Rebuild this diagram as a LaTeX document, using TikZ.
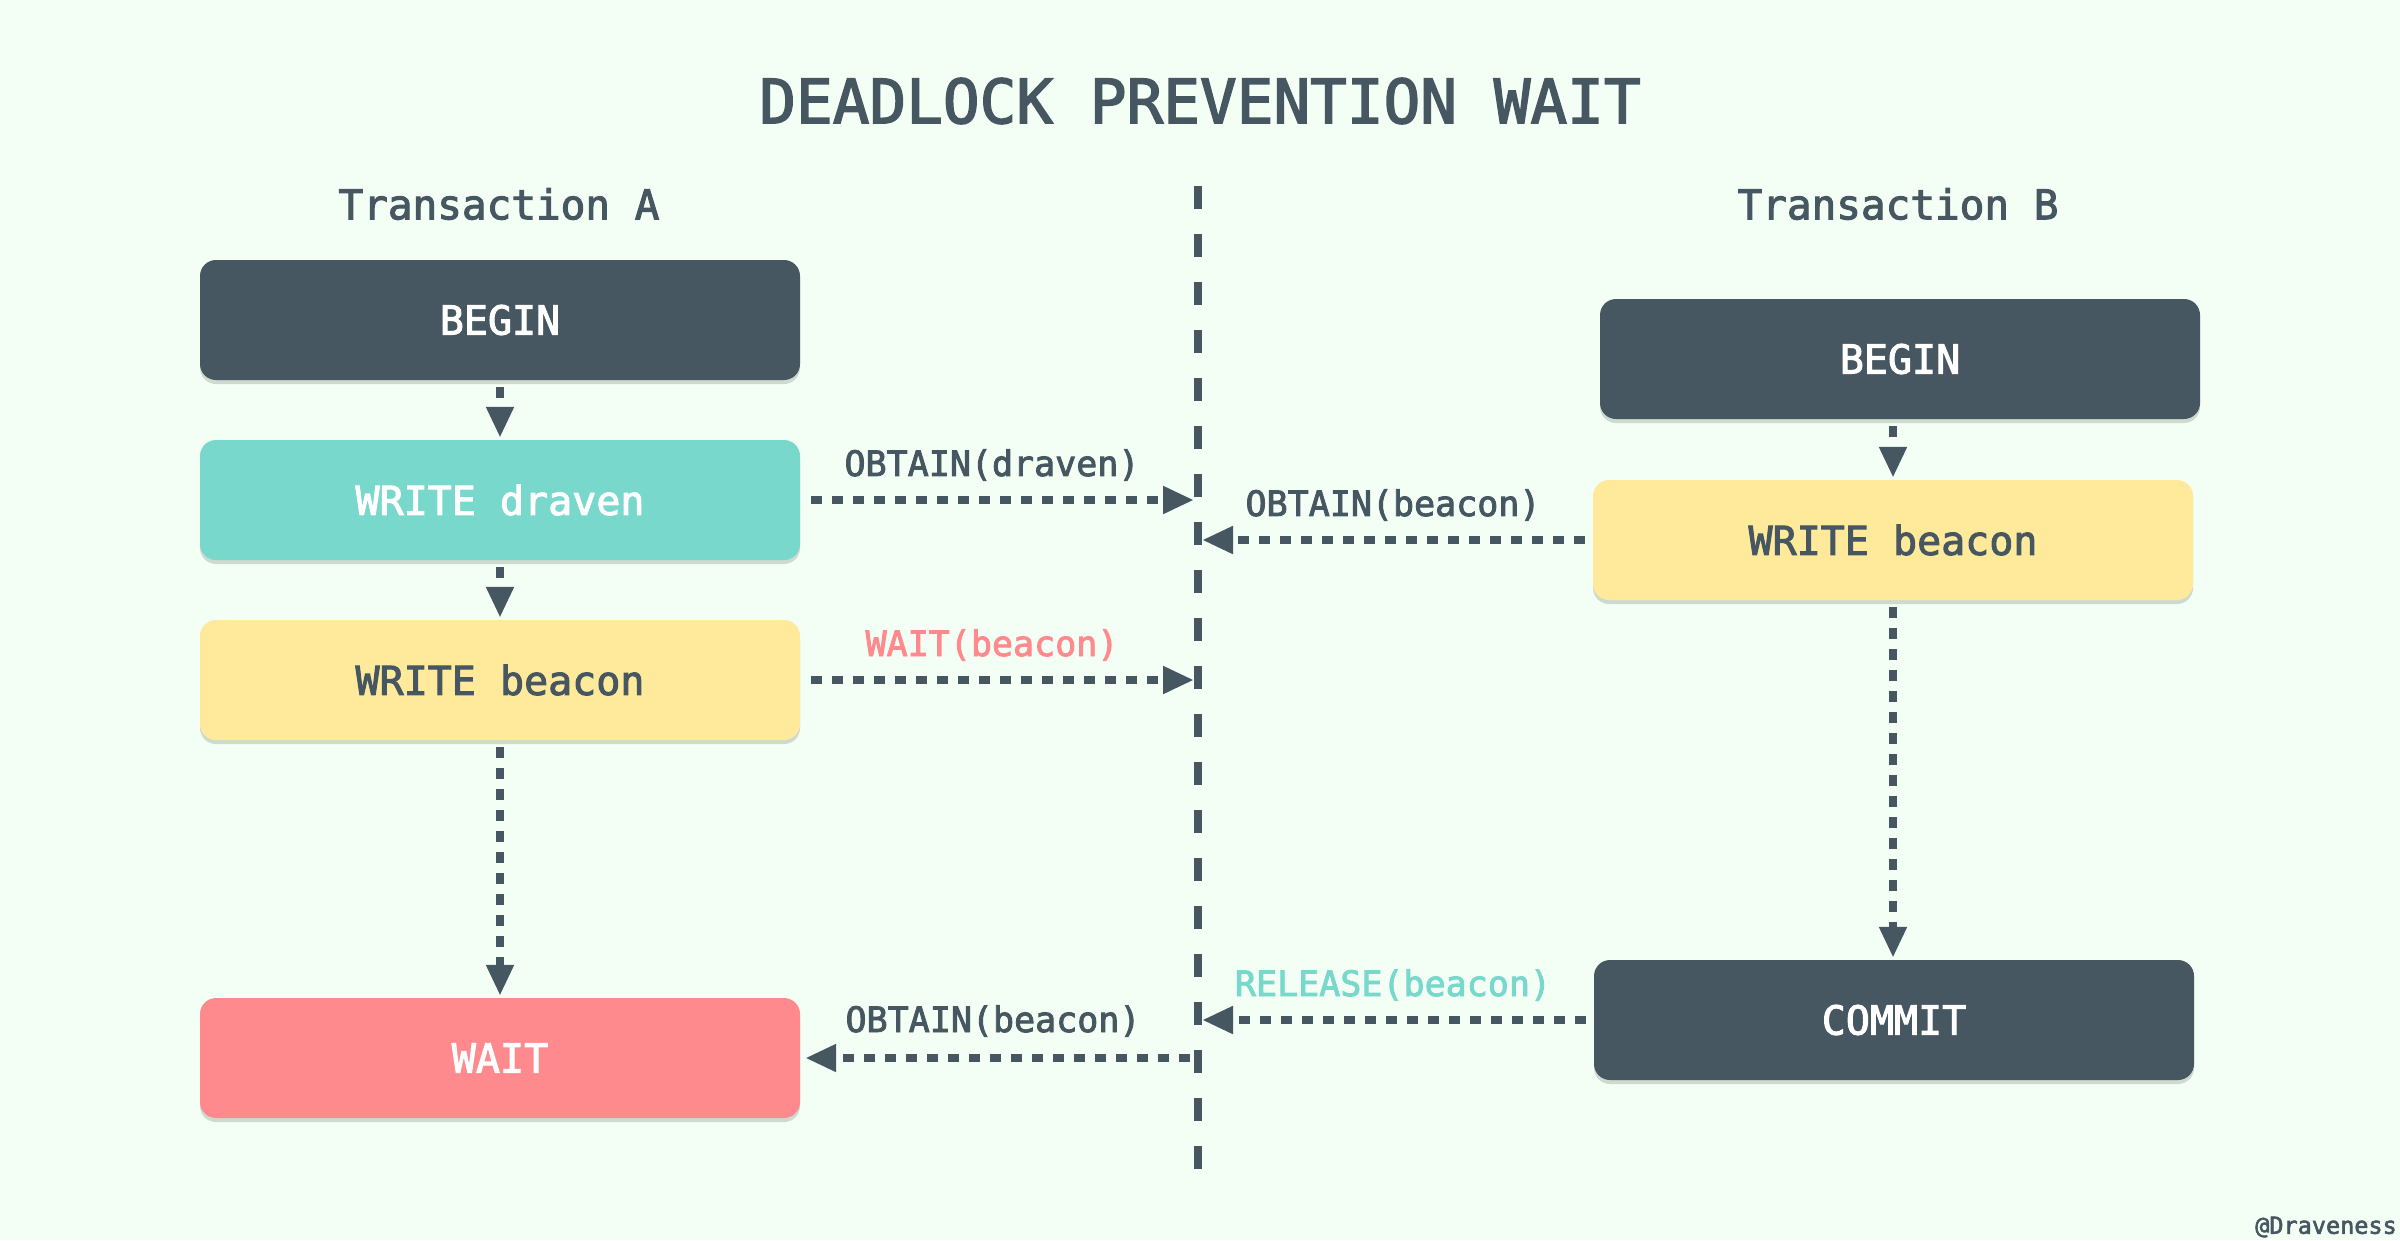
\documentclass[tikz,border=0pt]{standalone}
\usepackage{fontspec}
\setmainfont{DejaVu Sans Mono}[UprightFeatures={FakeBold=2.5}]
\usetikzlibrary{arrows.meta,shadows}
\definecolor{bgc}{HTML}{F3FFF5}
\definecolor{dark}{HTML}{465762}
\definecolor{teal}{HTML}{78D8CC}
\definecolor{yel}{HTML}{FFEA9B}
\definecolor{pinkc}{HTML}{FF8A8E}
\tikzset{
  box/.style={rectangle, rounded corners=16pt, minimum width=600pt, minimum height=120pt,
    inner sep=0pt, font=\fontsize{40}{48}\selectfont,
    drop shadow={shadow xshift=0pt, shadow yshift=-4pt, opacity=0.15, fill=black}},
  darkbox/.style={box, fill=dark, text=white},
  tealbox/.style={box, fill=teal, text=white},
  yelbox/.style={box, fill=yel, text=dark},
  pinkbox/.style={box, fill=pinkc, text=white},
  flow/.style={draw=dark, line width=8pt, dash pattern=on 11pt off 10pt,
    -{Triangle[length=31pt,width=26pt]}},
  lbl/.style={font=\fontsize{35}{42}\selectfont, text=dark, inner sep=0pt},
  head/.style={font=\fontsize{41}{48}\selectfont, text=dark, inner sep=0pt},
}
\begin{document}
\begin{tikzpicture}[x=1pt,y=-1pt]
\fill[bgc] (0,0) rectangle (2400,1240);
\useasboundingbox (0,0) rectangle (2400,1240);

\node[font=\fontsize{61}{70}\selectfont, text=dark, inner sep=0pt] (title) at (1200,101) {DEADLOCK PREVENTION WAIT};
\node[head] (ta) at (499,204) {Transaction A};
\node[head] (tb) at (1898,204) {Transaction B};

% separator
\coordinate (ltop) at (1198,186);
\coordinate (lbot) at (1198,1171);
\draw[dark, line width=8pt, dash pattern=on 23pt off 25pt] (ltop) -- (lbot);

% Transaction A
\node[darkbox] (bA) at (500,320) {BEGIN};
\node[tealbox] (wdA) at (500,500) {WRITE draven};
\node[yelbox] (wbA) at (500,680) {WRITE beacon};
\node[pinkbox] (waitA) at (500,1058) {WAIT};

% Transaction B
\node[darkbox] (bB) at (1900,359) {BEGIN};
\node[yelbox] (wbB) at (1893,540) {WRITE beacon};
\node[darkbox] (cB) at (1894,1020) {COMMIT};

% vertical flows
\draw[flow, shorten <=7pt, shorten >=2pt] (bA) -- (wdA);
\draw[flow, shorten <=7pt, shorten >=2pt] (wdA) -- (wbA);
\draw[flow, shorten <=7pt, shorten >=2pt] (wbA) -- (waitA);
\draw[flow, shorten <=7pt, shorten >=2pt] (bB.south -| wbB) -- (wbB);
\draw[flow, shorten <=7pt, shorten >=2pt] (wbB) -- (cB.north -| wbB);

% horizontal messages
\coordinate (m1) at (1194,500);
\coordinate (m2) at (1202,540);
\coordinate (m3) at (1194,680);
\coordinate (m4) at (1202,1020);
\coordinate (m5) at (1190,1058);
\draw[flow, shorten <=11pt] (wdA.east) -- (m1);
\draw[flow, shorten <=8pt] (wbB.west) -- (m2);
\draw[flow, shorten <=11pt] (wbA.east) -- (m3);
\draw[flow, shorten <=8pt] (cB.west) -- (m4);
\draw[flow, shorten >=5pt] (m5) -- (waitA.east);

\node[lbl] (l1) at (992,465) {OBTAIN(draven)};
\node[lbl] (l2) at (1393,505) {OBTAIN(beacon)};
\node[lbl, text=pinkc] (l3) at (992,645) {WAIT(beacon)};
\node[lbl, text=teal] (l4) at (1393,985) {RELEASE(beacon)};
\node[lbl] (l5) at (993,1021) {OBTAIN(beacon)};

\node[font=\fontsize{23.5}{28}\selectfont, text=dark, inner sep=0pt] (wm) at (2326,1227) {@Draveness};
\end{tikzpicture}
\end{document}
